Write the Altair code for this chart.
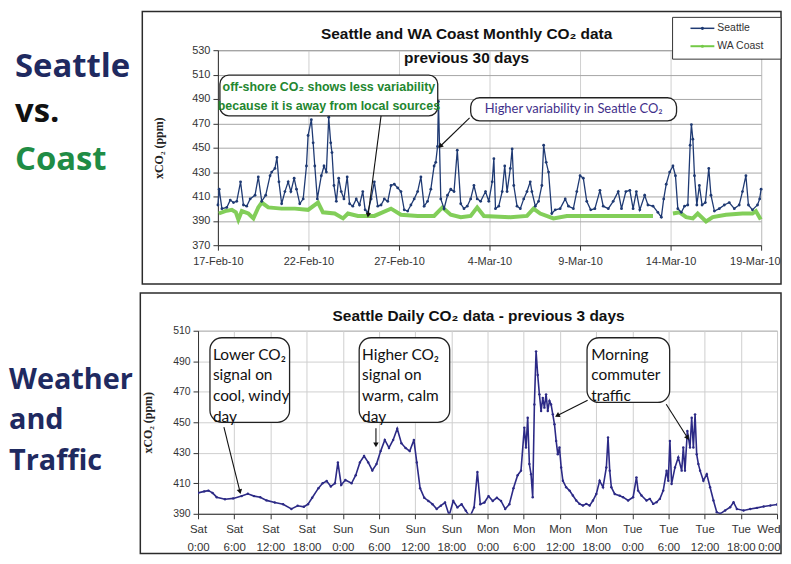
import json, math
import altair as alt
import pandas as pd

# ---------------- data: monthly (days since 17-Feb-10) ----------------
sea_day = [0.00,0.07,0.22,0.49,0.68,0.86,1.04,1.25,1.41,1.59,
           1.78,2.05,2.23,2.42,2.64,2.88,2.97,3.15,3.26,3.37,
           3.52,3.70,3.88,4.03,4.21,4.34,4.52,4.71,4.89,4.98,
           5.16,5.26,5.35,5.49,5.71,5.86,5.99,6.12,6.23,6.30,
           6.41,6.54,6.67,6.81,6.96,7.14,7.27,7.45,7.64,7.82,
           8.00,8.13,8.28,8.46,8.64,8.83,9.01,9.19,9.38,9.56,
           9.74,9.93,10.11,10.29,10.48,10.66,10.84,11.03,11.21,11.39,
           11.58,11.76,11.94,12.03,12.13,12.18,12.31,12.49,12.68,12.86,
           13.04,13.22,13.41,13.59,13.77,13.96,14.14,14.32,14.51,14.78,
           14.96,15.15,15.24,15.33,15.51,15.70,15.84,15.97,16.15,16.25,
           16.34,16.52,16.70,16.89,17.07,17.25,17.34,17.53,17.71,17.89,
           17.99,18.13,18.26,18.44,18.63,18.90,19.18,19.36,19.63,19.82,
           20.00,20.18,20.37,20.59,20.82,21.10,21.28,21.56,21.83,22.11,
           22.29,22.53,22.75,22.93,23.11,23.30,23.57,23.75,24.03,24.30,
           24.49,24.62,24.76,24.95,25.13,25.27,25.40,25.59,25.77,25.95,
           26.08,26.15,26.23,26.32,26.45,26.59,26.74,26.92,27.11,27.23,
           27.42,27.69,27.97,28.24,28.52,28.79,28.97,29.16,29.30,29.52,
           29.80,29.92,30.00]
sea_ppm = [403,416,400,401,407,405,406,422,403,402,
           408,411,426,406,411,427,430,433,442,422,
           404,414,422,414,425,416,404,408,435,460,
           473,454,435,408,427,435,430,475,454,446,
           419,406,425,414,408,426,404,402,408,403,
           414,399,397,408,422,402,403,408,406,419,
           420,417,414,399,398,403,408,414,426,402,
           406,416,435,438,451,488,408,400,411,416,
           414,448,404,400,402,408,419,408,406,414,
           406,422,441,400,402,414,435,414,433,449,
           419,402,400,408,414,422,414,402,406,419,
           452,438,430,396,399,400,408,402,400,414,
           427,425,406,399,400,415,402,400,406,414,
           400,414,415,400,414,399,411,403,402,397,
           393,408,420,430,435,427,400,397,402,403,
           452,469,457,427,403,419,403,405,433,411,
           398,400,403,405,400,403,414,427,403,399,
           403,408,416]

coast_day_a = [0.05,0.40,0.77,0.99,1.13,1.32,1.68,1.96,2.23,2.42,
               2.78,3.52,4.25,4.98,5.53,5.80,6.45,6.91,7.18,7.73,
               8.64,9.56,10.11,11.03,11.94,12.40,12.86,13.41,13.96,14.32,
               14.69,16.15,17.07,17.43,17.80,18.53,19.27,20.73,22.56,24.03]
coast_ppm_a = [396,398,399,397,391,398,396,392,401,405,
               401,400,400,399,405,397,396,392,396,394,
               394,400,395,394,394,401,395,393,394,401,
               394,393,394,400,396,392,394,394,394,394]
coast_day_b = [25.13,25.49,25.86,26.23,26.50,26.96,27.33,28.06,28.97,29.52,29.71,29.98]
coast_ppm_b = [396,397,393,392,396,389.5,393,395,396,396,398,391]

top_tick_days = [0, 5, 10, 15, 20, 25, 30]
top_tick_labels = ["17-Feb-10", "22-Feb-10", "27-Feb-10", "4-Mar-10", "9-Mar-10", "14-Mar-10", "19-Mar-10"]
top_y_ticks = [370, 390, 410, 430, 450, 470, 490, 510, 530]
series_names = ["Seattle", "WA Coast"]
series_colors = ["#1f3a73", "#74c947"]

# ---------------- data: daily (hours since Sat 0:00) ----------------
daily_hour = [0.0,1.03,1.72,2.41,3.10,4.47,5.85,7.23,8.26,9.29,
              10.32,11.36,12.73,14.11,15.48,16.52,17.55,18.24,18.93,19.96,
              20.65,21.33,22.02,22.71,23.19,23.74,24.43,25.46,26.15,26.84,
              27.53,28.22,28.90,29.59,30.28,30.97,31.66,32.35,33.03,33.72,
              34.41,35.10,35.79,36.27,36.82,37.51,38.19,38.88,39.57,40.26,
              40.95,41.64,42.32,43.01,43.70,44.39,45.08,45.77,46.32,46.80,
              47.49,48.17,48.86,49.55,50.24,50.93,51.62,52.30,52.99,53.55,
              54.10,54.38,54.66,54.94,55.21,55.49,55.77,56.05,56.32,56.60,
              56.88,57.16,57.43,57.71,57.99,58.27,58.54,58.82,59.10,59.38,
              59.65,59.93,60.21,60.49,61.04,61.60,62.15,62.71,63.26,63.82,
              64.37,64.93,65.48,66.04,66.59,67.15,67.70,67.98,68.26,68.53,
              69.09,69.92,70.48,71.31,72.14,72.69,72.97,73.53,74.36,74.91,
              75.47,76.02,76.58,77.13,77.69,77.97,78.24,78.52,79.08,79.63,
              80.19,80.46,80.74,81.13,81.57,81.85,82.13,82.41,82.68,82.96,
              83.24,83.79,84.35,84.90,85.46,86.01,86.57,87.40,88.23,88.79,
              89.34,90.45,91.56,92.67,93.78,94.89,96.0]
daily_ppm = [403.7,404.7,405.2,403.7,400.9,399.5,400.1,401.6,403.1,401.6,
             400.9,398.8,397.4,396.3,393.2,395.3,394.6,396.3,400.5,406.8,
             410,411.5,407.9,410,423.7,408.9,412.1,410,415.3,423.7,
             427.9,423.7,418.4,422.6,431.1,438.4,433.2,438.4,445.8,436.3,
             433.2,431.1,438.4,423.7,406.8,400.5,398.4,396.3,393.2,395.3,
             397.4,389,398.4,394.2,396.3,392.1,388,394.2,417.4,396.3,
             397.4,401.6,398.4,400.5,398.4,393.2,396.3,406.8,415.3,418.3,
             446.5,433.5,453,422.6,416,400.9,461.7,496.5,481,468.3,
             457.4,466,459.6,468.3,457.4,464,461.7,455.2,448.7,437.8,
             429,433.5,420.4,411.7,407.4,405.2,402,398.7,396.5,395.4,
             396.5,395.4,398.7,403,411.7,407.4,420.4,440,418.3,407.4,
             403,401.9,400.9,398.7,400.9,413.9,405.2,402,398.7,399.8,
             396.5,397.6,399.8,405.2,418.3,411.7,437.8,409.6,420.4,427,
             418.3,433.5,418.3,444.3,433.5,453,433.5,455.2,429,422.6,
             418.3,411.7,416,407.4,398.7,391,390,392.2,394.3,397.6,
             393.2,392.2,393.2,393.9,394.8,395.4,396.1]

daily_tick_hours = [0, 6, 12, 18, 24, 30, 36, 42, 48, 54, 60, 66, 72, 78, 84, 90, 96]
daily_tick_days = ["Sat", "Sat", "Sat", "Sat", "Sun", "Sun", "Sun", "Sun",
                   "Mon", "Mon", "Mon", "Mon", "Tue", "Tue", "Tue", "Tue", "Wed"]
daily_tick_times = ["0:00", "6:00", "12:00", "18:00", "0:00", "6:00", "12:00", "18:00",
                    "0:00", "6:00", "12:00", "18:00", "0:00", "6:00", "12:00", "18:00", "0:00"]
daily_y_ticks = [390, 410, 430, 450, 470, 490, 510]

# ---------------- annotations ----------------
top_box_x = [0.11, 13.96]
top_box_x2 = [12.14, 25.33]
top_box_y = [509.6, 491.0]
top_box_y2 = [476.1, 472.0]
top_note_text = ["off-shore CO₂ shows less variability", "because it is away from local sources"]
top_note_x = [6.13, 6.13]
top_note_y = [499.8, 484.6]
top_note2_text = ["Higher variability in Seattle CO₂"]
top_note2_x = [19.65]
top_note2_y = [481.6]
top_arrow_x = [9.01, 13.9]
top_arrow_y = [476.1, 474.5]
top_arrow_x2 = [8.30, 12.31]
top_arrow_y2 = [395.3, 451.6]

bot_box_x = [1.98, 26.72, 64.5]
bot_box_x2 = [15.18, 41.73, 78.2]
bot_box_y = [505.4, 505.4, 505.4]
bot_box_y2 = [450.0, 450.0, 463.0]
bot_note_text = ["Lower CO₂", "signal on", "cool, windy", "day",
                 "Higher CO₂", "signal on", "warm, calm", "day",
                 "Morning", "commuter", "traffic"]
bot_note_x = [2.47] * 4 + [27.2] * 4 + [65.2] * 3
bot_note_y = [494.3, 480.7, 467.0, 453.6, 494.3, 480.7, 467.0, 453.6, 494.3, 480.7, 467.0]
bot_arrow_x = [4.29, 29.5, 64.6, 77.63]
bot_arrow_y = [446.8, 446.1, 464.4, 461.8]
bot_arrow_x2 = [6.92, 29.5, 59.67, 81.1]
bot_arrow_y2 = [405.0, 435.7, 454.6, 440.2]

# ---------------- styling ----------------
W1, H1 = 546, 196
W2, H2 = 582, 184
NAVY = "#1f2a60"
SANS = "Liberation Sans, Arial, sans-serif"
NARROW = "Liberation Sans Narrow, Arial Narrow, sans-serif"
BOXFONT = "Lato, Open Sans, sans-serif"
BIGFONT = "Open Sans, sans-serif"
one = pd.DataFrame({"k": [0]})


def angles(x, y, x2, y2, sx, sy):
    out = []
    for a, b, c, d in zip(x, y, x2, y2):
        dx = (c - a) * sx
        dy = -(d - b) * sy
        out.append(math.degrees(math.atan2(dx, -dy)) % 360)
    return out


def fixed_text(txt, x, y, size, color="#111", weight="bold", font=SANS, align="center", baseline="middle"):
    return alt.Chart(one).mark_text(text=txt, fontSize=size, fontWeight=weight, font=font, color=color,
                                    align=align, baseline=baseline).encode(x=alt.value(x), y=alt.value(y))


def frame(x1, x2, y1, y2):
    return alt.Chart(one).mark_rect(fillOpacity=0, stroke="#2b2b2b", strokeWidth=1.5).encode(
        x=alt.value(x1), x2=alt.value(x2), y=alt.value(y1), y2=alt.value(y2))


def last_right(last_value, offset):
    test = f"datum.value > {last_value - 0.5}"
    align = {"condition": {"test": test, "value": "right"}, "value": "center"}
    off = {"condition": {"test": test, "value": offset}, "value": 0}
    return align, off


# ---------------- top panel ----------------
xs1 = alt.Scale(domain=[0, 30], nice=False, zero=False)
ys1 = alt.Scale(domain=[370, 530], nice=False, zero=False)
al1, off1 = last_right(30, 19)
xax1 = alt.Axis(values=top_tick_days, labelExpr=json.dumps(top_tick_labels) + "[round(datum.value/5)]",
                title=None, grid=True, gridColor="#d0d0d0", domainColor="#333", tickColor="#333",
                tickSize=5, labelFontSize=11, labelColor="#333", labelFont=SANS, labelPadding=5,
                labelOverlap=False, labelFlush=False, labelAlign=al1, labelOffset=off1)
yax1 = alt.Axis(values=top_y_ticks, title="xCO₂ (ppm)", titleFont="Liberation Serif, serif",
                titleFontWeight="bold", titleFontSize=12, titleColor="#222", titlePadding=26,
                grid=True, gridColor="#a6a6a6", domainColor="#333", tickColor="#333", tickSize=5,
                labelFontSize=11, labelColor="#333", labelFont=SANS, labelPadding=3)


def X1(f):
    return alt.X(f, type="quantitative", scale=xs1, axis=xax1)


def Y1(f):
    return alt.Y(f, type="quantitative", scale=ys1, axis=yax1)


color_scale = alt.Scale(domain=series_names, range=series_colors)

sea_df = pd.DataFrame({"x": sea_day, "y": sea_ppm, "s": "Seattle"})
coast_df = pd.DataFrame({"x": coast_day_a + coast_day_b, "y": coast_ppm_a + coast_ppm_b,
                         "s": "WA Coast",
                         "seg": ["a"] * len(coast_day_a) + ["b"] * len(coast_day_b)})

coast_line = alt.Chart(coast_df).mark_line(strokeWidth=4, opacity=0.9).encode(
    x=X1("x"), y=Y1("y"), color=alt.Color("s:N", scale=color_scale, legend=None), detail="seg:N")
sea_line = alt.Chart(sea_df).mark_line(strokeWidth=1.3, point=alt.OverlayMarkDef(size=8, filled=True)).encode(
    x=X1("x"), y=Y1("y"), color=alt.Color("s:N", scale=color_scale, legend=None))

# legend box drawn in the panel's top-right corner
LEG_X1, LEG_X2, LEG_Y1, LEG_Y2 = 457, W1 + 20, -33, 9
legend_layers = [alt.Chart(one).mark_rect(fill="white", stroke="#333", strokeWidth=1).encode(
    x=alt.value(LEG_X1), x2=alt.value(LEG_X2), y=alt.value(LEG_Y1), y2=alt.value(LEG_Y2))]
for i, (name, col) in enumerate(zip(series_names, series_colors)):
    ly = -22 + 18 * i
    legend_layers.append(alt.Chart(one).mark_rule(color=col, strokeWidth=1.5 if i == 0 else 2).encode(
        x=alt.value(LEG_X1 + 18), x2=alt.value(LEG_X1 + 42), y=alt.value(ly)))
    legend_layers.append(alt.Chart(one).mark_point(color=col, filled=True, size=10, opacity=1).encode(
        x=alt.value(LEG_X1 + 30), y=alt.value(ly)))
    legend_layers.append(fixed_text(name, LEG_X1 + 45, ly, 10.5, color="#333", weight="normal",
                                    align="left"))

tbox_df = pd.DataFrame({"x": top_box_x, "x2": top_box_x2, "y": top_box_y, "y2": top_box_y2})
tboxes = alt.Chart(tbox_df).mark_rect(cornerRadius=9, fill="white", stroke="#222", strokeWidth=1.3).encode(
    x=X1("x"), x2="x2", y=Y1("y"), y2="y2")
tnote = alt.Chart(pd.DataFrame({"x": top_note_x, "y": top_note_y, "t": top_note_text})).mark_text(
    font=NARROW, fontWeight="bold", fontSize=12.5, color="#23862f").encode(x=X1("x"), y=Y1("y"), text="t:N")
tnote2 = alt.Chart(pd.DataFrame({"x": top_note2_x, "y": top_note2_y, "t": top_note2_text})).mark_text(
    font=BOXFONT, fontSize=13, color="#3f2f8a").encode(x=X1("x"), y=Y1("y"), text="t:N")
tarr_df = pd.DataFrame({"x": top_arrow_x, "y": top_arrow_y, "x2": top_arrow_x2, "y2": top_arrow_y2,
                        "a": angles(top_arrow_x, top_arrow_y, top_arrow_x2, top_arrow_y2, W1 / 30, H1 / 160)})
tarr = alt.Chart(tarr_df).mark_rule(color="#111", strokeWidth=1.1).encode(
    x=X1("x"), y=Y1("y"), x2="x2", y2="y2")
thead = alt.Chart(tarr_df).mark_point(shape="triangle", filled=True, size=30, color="#111", opacity=1).encode(
    x=X1("x2"), y=Y1("y2"), angle=alt.Angle("a:Q", scale=None))

top_panel = alt.layer(
    frame(-76, W1 + 20, -39, H1 + 39),
    fixed_text("Seattle and WA Coast Monthly CO₂ data", 250, -16, 15.5),
    fixed_text("previous 30 days", 250, 8, 15.5),
    coast_line, sea_line, tboxes, tnote, tnote2, tarr, thead,
    *legend_layers,
).properties(width=W1, height=H1)

# ---------------- bottom panel ----------------
xs2 = alt.Scale(domain=[0, 96], nice=False, zero=False)
ys2 = alt.Scale(domain=[390, 510], nice=False, zero=False)
pairs = [[d, t] for d, t in zip(daily_tick_days, daily_tick_times)]
al2, off2 = last_right(96, 3)
xax2 = alt.Axis(values=daily_tick_hours, labelExpr=json.dumps(pairs) + "[round(datum.value/6)]",
                title=None, grid=True, gridColor="#cfcfcf", domainColor="#333", tickColor="#333",
                tickSize=5, labelFontSize=11.5, labelColor="#333", labelFont=SANS, labelPadding=5,
                labelLineHeight=18, labelOverlap=False, labelFlush=False, labelAlign=al2, labelOffset=off2)
yax2 = alt.Axis(values=daily_y_ticks, title="xCO₂ (ppm)", titleFont="Liberation Serif, serif",
                titleFontWeight="bold", titleFontSize=12, titleColor="#222", titlePadding=18,
                grid=True, gridColor="#cfcfcf", domainColor="#333", tickColor="#333", tickSize=5,
                labelFontSize=10.5, labelColor="#333", labelFont=SANS, labelPadding=3)


def X2(f):
    return alt.X(f, type="quantitative", scale=xs2, axis=xax2)


def Y2(f):
    return alt.Y(f, type="quantitative", scale=ys2, axis=yax2)


daily_df = pd.DataFrame({"x": daily_hour, "y": daily_ppm})
daily_line = alt.Chart(daily_df).mark_line(color="#2c2a86", strokeWidth=1.6, clip=True,
                                           point=alt.OverlayMarkDef(size=6, filled=True, color="#2c2a86")).encode(
    x=X2("x"), y=Y2("y"))
bbox_df = pd.DataFrame({"x": bot_box_x, "x2": bot_box_x2, "y": bot_box_y, "y2": bot_box_y2})
bboxes = alt.Chart(bbox_df).mark_rect(cornerRadius=12, fill="white", stroke="#222", strokeWidth=1.3).encode(
    x=X2("x"), x2="x2", y=Y2("y"), y2="y2")
bnote = alt.Chart(pd.DataFrame({"x": bot_note_x, "y": bot_note_y, "t": bot_note_text})).mark_text(
    font=BOXFONT, fontSize=15.5, color="#111", align="left").encode(x=X2("x"), y=Y2("y"), text="t:N")
barr_df = pd.DataFrame({"x": bot_arrow_x, "y": bot_arrow_y, "x2": bot_arrow_x2, "y2": bot_arrow_y2,
                        "a": angles(bot_arrow_x, bot_arrow_y, bot_arrow_x2, bot_arrow_y2, W2 / 96, H2 / 120)})
barr = alt.Chart(barr_df).mark_rule(color="#111", strokeWidth=1.1).encode(
    x=X2("x"), y=Y2("y"), x2="x2", y2="y2")
bhead = alt.Chart(barr_df).mark_point(shape="triangle", filled=True, size=30, color="#111", opacity=1).encode(
    x=X2("x2"), y=Y2("y2"), angle=alt.Angle("a:Q", scale=None))

bot_panel = alt.layer(
    frame(-58, W2 + 4, -38, H2 + 40),
    fixed_text("Seattle Daily CO₂ data - previous 3 days", 282, -15, 15.5),
    daily_line, bboxes, bnote, barr, bhead,
).properties(width=W2, height=H2)

# ---------------- left labels ----------------
hide = alt.ViewBackground(stroke="transparent")
lab_top = alt.layer(
    fixed_text("Seattle", 6, 27, 33, color=NAVY, font=BIGFONT, align="left", baseline="alphabetic"),
    fixed_text("vs.", 6, 72, 33, color="#111", font=BIGFONT, align="left", baseline="alphabetic"),
    fixed_text("Coast", 6, 120, 33, color="#1f8c45", font=BIGFONT, align="left", baseline="alphabetic"),
).properties(width=131, height=H1, view=hide)
lab_bot = alt.layer(
    fixed_text("Weather", 0, 59, 29, color=NAVY, font=BIGFONT, align="left", baseline="alphabetic"),
    fixed_text("and", 0, 99, 29, color=NAVY, font=BIGFONT, align="left", baseline="alphabetic"),
    fixed_text("Traffic", 0, 140, 29, color=NAVY, font=BIGFONT, align="left", baseline="alphabetic"),
).properties(width=129, height=H2, view=hide)

chart = alt.vconcat(
    alt.hconcat(lab_top, top_panel, spacing=0),
    alt.hconcat(lab_bot, bot_panel, spacing=0),
    spacing=5,
    padding={"left": 0, "top": 0, "right": 0, "bottom": 0},
).configure_view(stroke="#888", strokeWidth=1)

chart.save("out.html", embed_options={"renderer": "svg", "actions": False})
